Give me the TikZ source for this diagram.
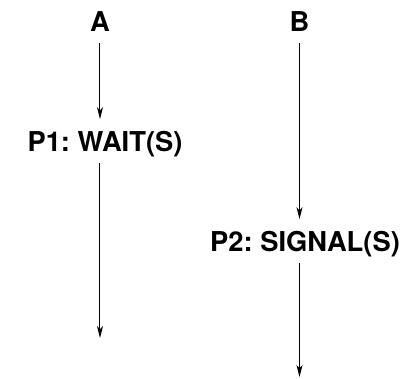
\documentclass[tikz,border=0pt]{standalone}
\usepackage{fontspec}
\setmainfont{TeX Gyre Heros}
\frenchspacing
\usetikzlibrary{arrows.meta,positioning}
\tikzset{
  proc/.style={font=\bfseries\fontsize{20.5}{24}\selectfont,inner xsep=0pt,inner ysep=9pt,
    text height=14.7pt,text depth=0pt,anchor=base},
  flow/.style={-{Stealth[length=9pt,width=4.5pt,inset=2.5pt]},line width=0.75pt}
}
\begin{document}
\begin{tikzpicture}[x=0.75pt,y=-0.75pt]
		\useasboundingbox (0,0) rectangle (405,379);
		\begin{scope}
			\node(A) [proc] at (100,31) {A};
			\node(P1) [proc] at (105,151) {P1: WAIT(S)};
			\coordinate (endA) at (100,338);
			\draw[flow] (A) -- (A |- P1.north);
			\draw[flow] (A |- P1.south) -- (endA);
		\end{scope}
		\begin{scope}
			\node(B) [proc] at (299.5,31) {B};
			\node(P2) [proc] at (305,251) {P2: SIGNAL(S)};
			\coordinate (endB) at (299.5,377);
			\draw[flow] (B) -- (B |- P2.north);
			\draw[flow] (B |- P2.south) -- (endB);
		\end{scope}
	\end{tikzpicture}
\end{document}
